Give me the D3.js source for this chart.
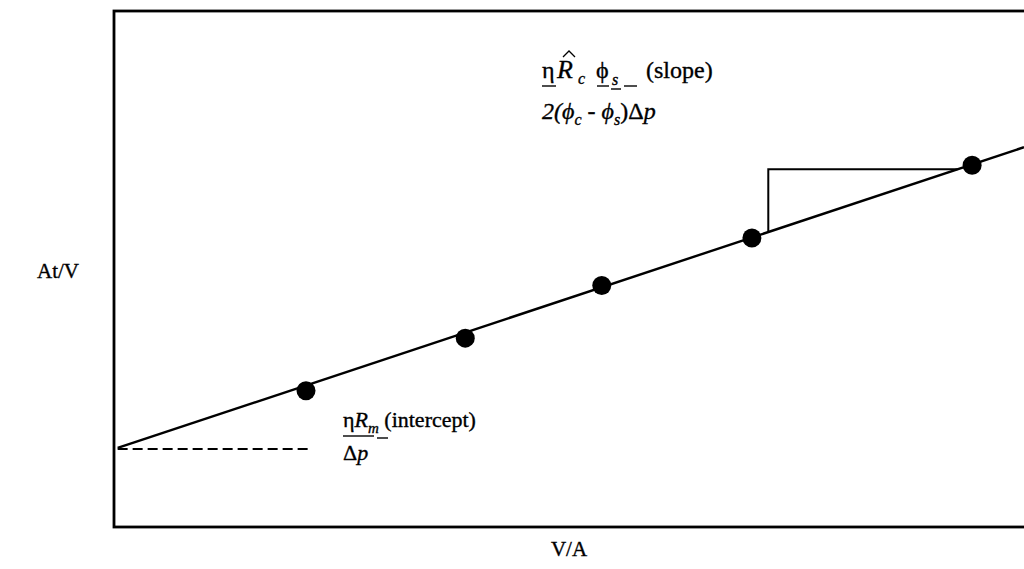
<!DOCTYPE html>
<html>
<head>
<meta charset="utf-8">
<script src="https://cdn.jsdelivr.net/npm/d3@7"></script>
<style>
  body { margin: 0; background: #fff; }
  svg { display: block; font-family: "Liberation Serif", "DejaVu Serif", serif; }
  .ink { stroke: #000; stroke-width: 0.35px; }
</style>
</head>
<body>
<div id="chart"></div>
<script>
// Measured points (V/A, At/V) in arbitrary units
const xValues = [21.1, 38.6, 53.6, 70.1, 94.3];
const yValues = [26.4, 36.6, 46.8, 56.0, 70.1];

// Fitted line: At/V = intercept + slope * V/A
const intercept = 15.1;
const slope = 0.585;

// Slope triangle and intercept guide (data units)
const triangleX = [71.9, 92.7];
const interceptDashEnd = 21.3;

const xLabel = 'V/A';
const yLabel = 'At/V';

const width = 1024, height = 569;
const margin = {left: 114, top: 11, right: 0, bottom: 42};

const svg = d3.select('#chart').append('svg')
  .attr('width', width)
  .attr('height', height);

const x = d3.scaleLinear().domain([0, 100]).range([margin.left, width - margin.right]);
const y = d3.scaleLinear().domain([0, 100]).range([height - margin.bottom, margin.top]);
const fit = function(v) { return intercept + slope * v; };

// Frame (right edge runs off the page)
svg.append('rect')
  .attr('x', x(0))
  .attr('y', y(100))
  .attr('width', x(100) - x(0) + 10)
  .attr('height', y(0) - y(100))
  .attr('fill', 'none')
  .attr('stroke', '#000')
  .attr('stroke-width', 2.8);

// Dashed intercept guide
svg.append('line')
  .attr('x1', x(0.4)).attr('x2', x(interceptDashEnd))
  .attr('y1', y(intercept)).attr('y2', y(intercept))
  .attr('stroke', '#000')
  .attr('stroke-width', 2)
  .attr('stroke-dasharray', '10,5');

// Fitted line
svg.append('line')
  .attr('x1', x(0.4)).attr('y1', y(fit(0.4)))
  .attr('x2', x(100)).attr('y2', y(fit(100)))
  .attr('stroke', '#000')
  .attr('stroke-width', 2.4);

// Slope triangle
const triTop = fit(triangleX[1]);
svg.append('path')
  .attr('d', d3.line()([
    [x(triangleX[0]), y(fit(triangleX[0]))],
    [x(triangleX[0]), y(triTop)],
    [x(triangleX[1]), y(triTop)]
  ]))
  .attr('fill', 'none')
  .attr('stroke', '#000')
  .attr('stroke-width', 2);

// Points
svg.selectAll('.pt')
  .data(xValues.map(function(v, i) { return [v, yValues[i]]; }))
  .enter()
  .append('circle')
  .attr('class', 'pt')
  .attr('cx', function(d) { return x(d[0]); })
  .attr('cy', function(d) { return y(d[1]); })
  .attr('r', 9.5)
  .attr('fill', '#000');

// Axis titles
svg.append('text')
  .attr('class', 'ink')
  .attr('x', 37).attr('y', 278)
  .attr('font-size', 21)
  .text(yLabel);

svg.append('text')
  .attr('class', 'ink')
  .attr('x', (x(0) + x(100)) / 2).attr('y', 556)
  .attr('text-anchor', 'middle')
  .attr('font-size', 21)
  .text(xLabel);

// helper for short underline / fraction-bar strokes
function rule(x1, x2, yy, w) {
  svg.append('line')
    .attr('x1', x1).attr('x2', x2)
    .attr('y1', yy).attr('y2', yy)
    .attr('stroke', '#000').attr('stroke-width', w || 1.4);
}

// Slope annotation, numerator line
const s1 = svg.append('text').attr('class', 'ink').attr('y', 78).attr('font-size', 24);
s1.append('tspan').attr('x', 542).text('η');
s1.append('tspan').attr('x', 557).attr('font-style', 'italic').attr('font-size', 26).text('R');
s1.append('tspan').attr('x', 578).attr('y', 84).attr('font-style', 'italic').attr('font-size', 16).text('c');
s1.append('tspan').attr('x', 596).attr('y', 78).text('ϕ');
s1.append('tspan').attr('x', 612).attr('y', 85).attr('font-style', 'italic').attr('font-size', 16).text('s');
s1.append('tspan').attr('x', 646).attr('y', 78).text('(slope)');
// hat over R
svg.append('path')
  .attr('d', 'M563,57 L569,51 L575,57')
  .attr('fill', 'none').attr('stroke', '#000').attr('stroke-width', 1.3);
rule(542, 556, 86);
rule(597, 609, 86);
rule(611, 621, 89);
rule(624, 637, 86);

// Slope annotation, denominator line
const s2 = svg.append('text').attr('class', 'ink').attr('x', 542).attr('y', 119)
  .attr('font-size', 24).attr('font-style', 'italic');
s2.append('tspan').text('2(ϕ');
s2.append('tspan').attr('font-size', 16).attr('dy', 6).text('c');
s2.append('tspan').attr('dy', -6).text(' - ϕ');
s2.append('tspan').attr('font-size', 16).attr('dy', 6).text('s');
s2.append('tspan').attr('dy', -6).attr('font-style', 'normal').text(')Δ');
s2.append('tspan').text('p');

// Intercept annotation
const i1 = svg.append('text').attr('class', 'ink').attr('x', 343).attr('y', 427).attr('font-size', 22);
i1.append('tspan').text('η');
i1.append('tspan').attr('font-style', 'italic').text('R');
i1.append('tspan').attr('font-style', 'italic').attr('font-size', 15).attr('dy', 6).text('m');
i1.append('tspan').attr('dy', -6).text(' (intercept)');

rule(343, 374, 436, 1.4);
rule(377, 388, 438, 1.4);

const i2 = svg.append('text').attr('class', 'ink').attr('x', 343).attr('y', 460).attr('font-size', 22);
i2.append('tspan').text('Δ');
i2.append('tspan').attr('font-style', 'italic').text('p');
</script>
</body>
</html>
